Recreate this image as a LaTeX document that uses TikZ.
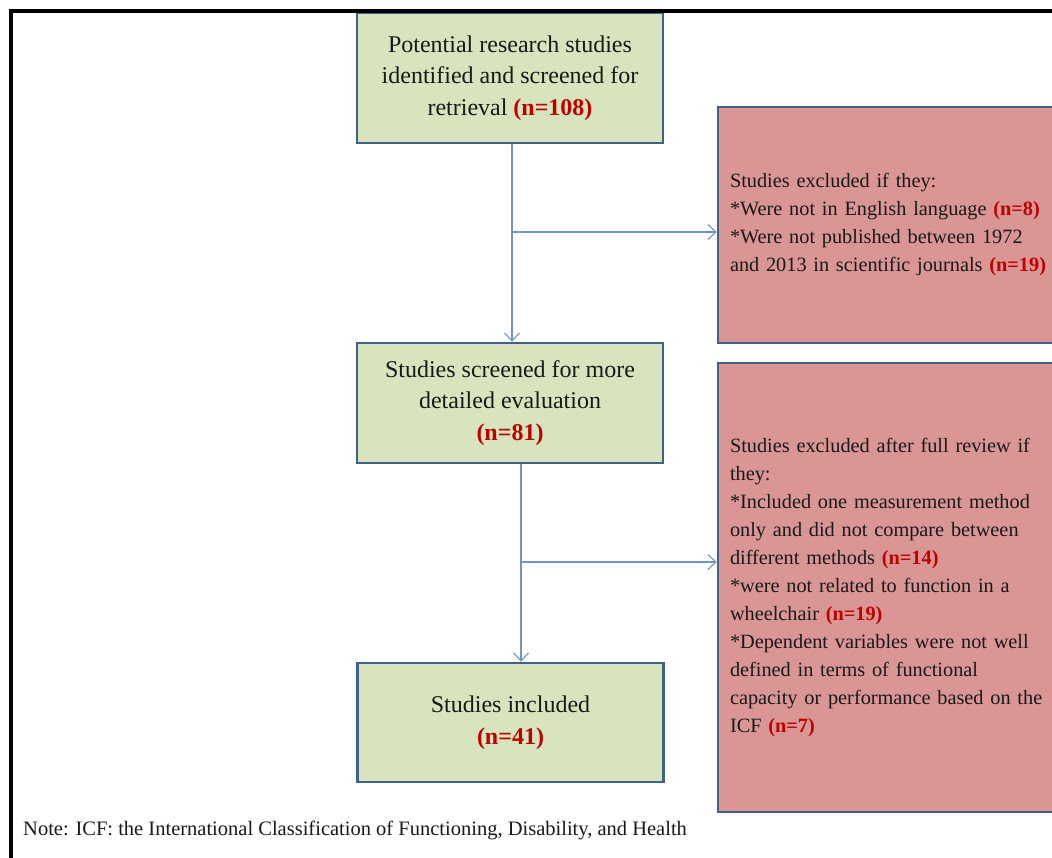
\documentclass[tikz,border=0pt]{standalone}
\usepackage{fontspec}
\setmainfont{Liberation Serif}
\usetikzlibrary{arrows.meta}
\usetikzlibrary{calc}

\definecolor{stagefill}{HTML}{D7E4BD}
\definecolor{dropfill}{HTML}{D99694}
\definecolor{boxedge}{HTML}{41618C}
\definecolor{flowblue}{HTML}{6F93C3}
\definecolor{countred}{HTML}{C00000}
\newcommand{\cnt}[1]{\textcolor{countred}{\textbf{#1}}}

\tikzset{
  stage/.style={draw=boxedge, line width=2.5pt, fill=stagefill, minimum width=306pt,
    align=center, text=black!90, font=\fontsize{24}{31.5}\selectfont},
  dropbox/.style={draw=boxedge, line width=2.5pt, fill=dropfill, text width=338pt,
    inner xsep=12pt, align=left, text=black!90, font=\fontsize{20.3}{28}\selectfont},
  flow/.style={draw=flowblue, line width=1.1pt, -{Straight Barb[length=8pt,width=15pt]}}
}

\begin{document}
\begin{tikzpicture}[x=1pt,y=-1pt]
            \useasboundingbox (0,0) rectangle (1052,857);
            \clip (0,0) rectangle (1052,857);

            \node[stage, minimum height=130pt] (found) at (510,78) {Potential research studies\\identified and screened for\\retrieval \cnt{(n=108)}};
            \node[stage, minimum height=120pt] (screened) at (510,403) {Studies screened for more\\detailed evaluation\\\cnt{(n=81)}};
            \node[stage, minimum height=119pt] (included) at (510.5,722.5) {Studies included\\\cnt{(n=41)}};

            \node[dropbox, minimum height=236pt] (dropA) at (899,225) {Studies excluded if they:\\{*}Were not in English language \cnt{(n=8)}\\{*}Were not published between 1972\\and 2013 in scientific journals \cnt{(n=19)}};
            \node[dropbox, minimum height=449pt] (dropB) at (899,587.5) {Studies excluded after full review if\\they:\\{*}Included one measurement method\\only and did not compare between\\different methods \cnt{(n=14)}\\{*}were not related to function in a\\wheelchair \cnt{(n=19)}\\{*}Dependent variables were not well\\defined in terms of functional\\capacity or performance based on the\\ICF \cnt{(n=7)}};

            \node[anchor=west, inner sep=0pt, text=black!90, font=\fontsize{20.5}{24}\selectfont] (note) at (23,830) {Note: ICF: the International Classification of Functioning, Disability, and Health};

            \coordinate (splitA) at (512,232);
            \coordinate (splitB) at (521,562);

            \draw[flow] (splitA |- found.south) to (splitA |- screened.north);
            \draw[flow] (splitA) to (splitA -| dropA.west);
            \draw[flow] (splitB |- screened.south) to (splitB |- included.north);
            \draw[flow] (splitB) to (splitB -| dropB.west);

            \draw[line width=4pt] (11,860) -- (11,11) -- (1056,11);
        \end{tikzpicture}
\end{document}
